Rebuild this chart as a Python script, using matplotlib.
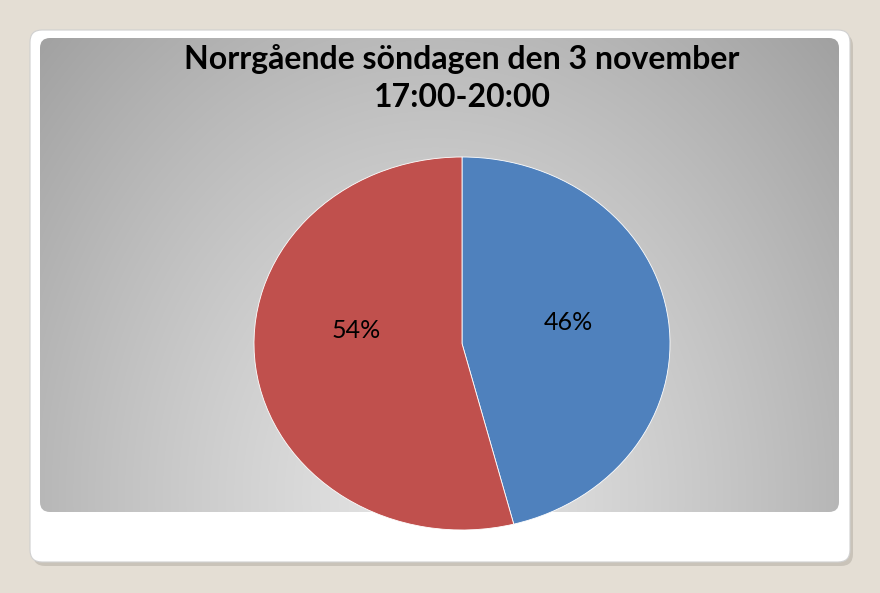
import numpy as np
import matplotlib.pyplot as plt
from matplotlib.patches import FancyBboxPatch

# Данные
labels = ['Norrgående A', 'Norrgående B']
shares = [46, 54]
colors = ['#4F81BD', '#C0504D']
title = 'Norrgående söndagen den 3 november\n17:00-20:00'

W, H = 880, 593
fig = plt.figure(figsize=(W / 100, H / 100), dpi=100)
fig.patch.set_facecolor('#e4ded4')

# Фон: карточка и серый градиент
bg = fig.add_axes([0, 0, 1, 1])
bg.set_xlim(0, W)
bg.set_ylim(H, 0)
bg.axis('off')

shadow = FancyBboxPatch((33, 34), 820, 532, boxstyle='round,pad=0,rounding_size=12',
                        fc='#b8b2a8', ec='none', alpha=0.6)
bg.add_patch(shadow)
card = FancyBboxPatch((30, 30), 820, 532, boxstyle='round,pad=0,rounding_size=12',
                      fc='white', ec='#d0d0d0', lw=0.8)
bg.add_patch(card)

yy, xx = np.mgrid[0:H, 0:W]
cx, cy = 435, 495
d = np.sqrt(((xx - cx) / 430.0) ** 2 + ((yy - cy) / 520.0) ** 2)
g = 0.90 - 0.20 * d ** 1.2
img = np.dstack([g, g, g])
im = bg.imshow(img, extent=[0, W, H, 0], zorder=2)
clip = FancyBboxPatch((40, 38), 799, 474, boxstyle='round,pad=0,rounding_size=10',
                      fc='none', ec='none', transform=bg.transData)
bg.add_patch(clip)
im.set_clip_path(clip)

fig.text(462 / W, 1 - 78 / H, title, ha='center', va='center', fontsize=23,
         fontweight='bold', family='Lato', linespacing=1.4)

# Круговая диаграмма (эллипс)
ax = fig.add_axes([254 / W, 1 - 530 / H, 416 / W, 373 / H])
wedges, texts, autotexts = ax.pie(shares, colors=colors, startangle=90, counterclock=False,
                                  autopct='%1.0f%%', pctdistance=0.52,
                                  wedgeprops=dict(edgecolor='white', linewidth=0.6),
                                  textprops=dict(fontsize=18, family='Lato'))
ax.set_aspect('auto')
ax.set_xlim(-1, 1)
ax.set_ylim(-1, 1)
autotexts[0].set_position((0.51, 0.11))
autotexts[1].set_position((-0.51, 0.07))

plt.savefig('out.png', dpi=100, facecolor=fig.get_facecolor())
